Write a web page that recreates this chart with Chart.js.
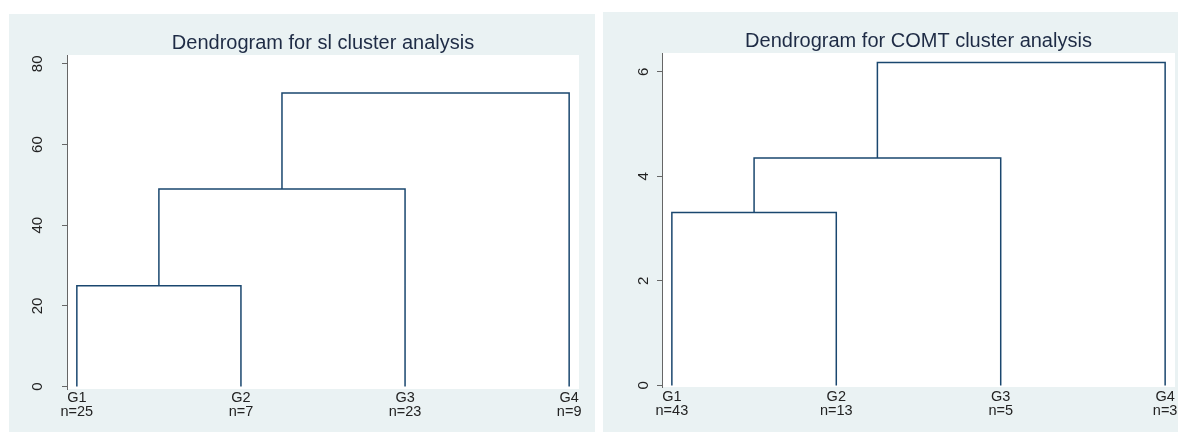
<!DOCTYPE html>
<html>
<head>
<meta charset="utf-8">
<script src="https://cdn.jsdelivr.net/npm/chart.js@4/dist/chart.umd.min.js"></script>
<style>
  html, body { margin: 0; padding: 0; background: #ffffff; }
  body { width: 1178px; height: 432px; position: relative; overflow: hidden; }
  .panel { position: absolute; background: #eaf2f3; }
  #p1 { left: 9px; top: 14px; width: 586px; height: 418px; }
  #p2 { left: 603px; top: 12px; width: 575px; height: 420px; }
</style>
</head>
<body>
<div class="panel" id="p1"><canvas id="slChart" width="586" height="418"></canvas></div>
<div class="panel" id="p2"><canvas id="comtChart" width="575" height="420"></canvas></div>
<script>
// sl cluster analysis
var slGroups = ['G1', 'G2', 'G3', 'G4'];
var slSizes = [25, 7, 23, 9];
// nodes 0-3 are the groups, 4+ the clusters made by each merge
var slMergeLeft = [0, 4, 5];
var slMergeRight = [1, 2, 3];
var slHeights = [25, 49, 72.8];
var slTicks = [0, 20, 40, 60, 80];

// COMT cluster analysis
var comtGroups = ['G1', 'G2', 'G3', 'G4'];
var comtSizes = [43, 13, 5, 3];
var comtMergeLeft = [0, 4, 5];
var comtMergeRight = [1, 2, 3];
var comtHeights = [3.31, 4.35, 6.18];
var comtTicks = [0, 2, 4, 6];

var FONT = '"Liberation Sans", Arial, Helvetica, sans-serif';
var NAVY = '#1a476f';

// white plot region + title centred over it
var plotRegion = {
    id: 'plotRegion',
    beforeDraw: function(chart) {
        var a = chart.chartArea, ctx = chart.ctx;
        ctx.save();
        ctx.fillStyle = '#ffffff';
        ctx.fillRect(a.left, a.top, a.right - a.left, a.bottom - a.top);
        ctx.restore();
    },
    afterDraw: function(chart, args, opts) {
        var a = chart.chartArea, ctx = chart.ctx;
        ctx.save();
        ctx.font = '20px ' + FONT;
        ctx.fillStyle = '#1e2b45';
        ctx.textAlign = 'center';
        ctx.textBaseline = 'middle';
        ctx.fillText(opts.text, (a.left + a.right) / 2, opts.y);
        ctx.restore();
    }
};

function buildLinks(groups, left, right, heights) {
    var nodes = groups.map(function(g, i) { return {x: i + 1, y: 0}; });
    var sets = [];
    for (var i = 0; i < heights.length; i++) {
        var a = nodes[left[i]], b = nodes[right[i]], h = heights[i];
        sets.push({
            data: [{x: a.x, y: a.y}, {x: a.x, y: h}, {x: b.x, y: h}, {x: b.x, y: b.y}],
            borderColor: NAVY,
            borderWidth: 1.5,
            pointRadius: 0,
            fill: false,
            tension: 0
        });
        nodes.push({x: (a.x + b.x) / 2, y: h});
    }
    return sets;
}

function makeDendrogram(id, o) {
    new Chart(document.getElementById(id), {
        type: 'line',
        data: { datasets: buildLinks(o.groups, o.left, o.right, o.heights) },
        plugins: [plotRegion],
        options: {
            responsive: false,
            animation: false,
            events: [],
            layout: { padding: { top: 41, right: o.padRight, left: 0, bottom: 0 } },
            plugins: {
                legend: { display: false },
                tooltip: { enabled: false },
                plotRegion: { text: o.title, y: 29 }
            },
            scales: {
                x: {
                    type: 'linear',
                    min: 0.94,
                    max: 4.06,
                    grid: { display: false, drawTicks: false },
                    border: { display: false },
                    afterBuildTicks: function(s) {
                        s.ticks = o.groups.map(function(g, i) { return {value: i + 1}; });
                    },
                    afterFit: function(s) {
                        s.height = o.xHeight;
                        s.paddingLeft = 0;
                        s.paddingRight = 0;
                    },
                    ticks: {
                        autoSkip: false,
                        maxRotation: 0,
                        padding: o.xPad,
                        color: '#222222',
                        font: { family: FONT, size: 14.5, lineHeight: 0.95 },
                        callback: function(v) {
                            var i = Math.round(v) - 1;
                            return [o.groups[i], 'n=' + o.sizes[i]];
                        }
                    }
                },
                y: {
                    min: o.yMin,
                    max: o.yMax,
                    grid: { drawOnChartArea: false, drawTicks: true, tickLength: 5, color: '#666666' },
                    border: { display: true, color: '#666666', width: 1 },
                    afterBuildTicks: function(s) {
                        s.ticks = o.ticks.map(function(v) { return {value: v}; });
                    },
                    afterFit: function(s) {
                        s.width = o.yWidth;
                        s.paddingTop = 0;
                        s.paddingBottom = 0;
                    },
                    ticks: {
                        minRotation: 90,
                        maxRotation: 90,
                        crossAlign: 'center',
                        padding: o.yPad,
                        color: '#222222',
                        font: { family: FONT, size: 15 }
                    }
                }
            }
        }
    });
}

makeDendrogram('slChart', {
    title: 'Dendrogram for sl cluster analysis',
    groups: slGroups, sizes: slSizes,
    left: slMergeLeft, right: slMergeRight, heights: slHeights,
    ticks: slTicks, yMin: -0.6, yMax: 82.2,
    padRight: 16, yWidth: 58, xHeight: 43, xPad: 2, yPad: 15.5
});

makeDendrogram('comtChart', {
    title: 'Dendrogram for COMT cluster analysis',
    groups: comtGroups, sizes: comtSizes,
    left: comtMergeLeft, right: comtMergeRight, heights: comtHeights,
    ticks: comtTicks, yMin: -0.03, yMax: 6.36,
    padRight: 3, yWidth: 59, xHeight: 45, xPad: 3, yPad: 9
});
</script>
</body>
</html>
